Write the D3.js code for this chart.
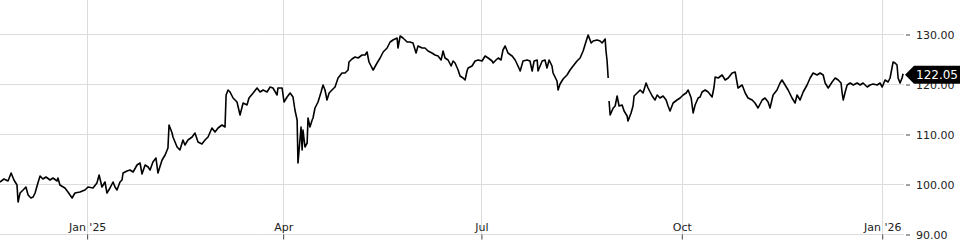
<!DOCTYPE html>
<html lang="en">
<head>
    <meta charset="UTF-8">
    <title>Price chart</title>
    <script src="https://d3js.org/d3.v7.min.js"></script>
    <style>
        body { margin: 0; background: #fff; }
        svg { display: block; font-family: "DejaVu Sans", sans-serif; }
    </style>
</head>
<body>
    <svg class="chart" width="960" height="240"></svg>

    <script>
        // days since 22 Nov 2024 (fractional = intraday)
        const days = [
            0.0, 1.8, 3.7, 5.1, 6.4, 7.8, 8.3, 9.2, 10.6, 11.9,
            12.9, 14.2, 15.2, 16.1, 17.4, 18.4, 19.7, 21.1, 23.0, 24.3,
            26.2, 26.6, 27.5, 29.8, 31.2, 33.1, 34.4, 36.7, 39.0, 40.4,
            42.7, 44.5, 45.5, 46.8, 48.2, 49.1, 50.5, 51.9, 52.8, 53.7,
            55.1, 56.0, 56.5, 58.3, 59.7, 61.1, 62.9, 64.3, 65.2, 66.6,
            68.0, 68.9, 70.2, 71.6, 72.5, 74.4, 75.8, 77.1, 77.6, 79.0,
            79.4, 81.3, 82.6, 84.0, 84.9, 86.3, 88.2, 89.5, 90.9, 92.7,
            94.1, 95.5, 97.3, 98.7, 100.1, 101.9, 103.3, 103.8, 104.7, 105.6,
            107.0, 108.8, 110.2, 111.6, 113.4, 114.3, 116.2, 118.0, 119.4, 120.8,
            122.6, 124.0, 125.3, 127.2, 127.6, 129.5, 130.4, 131.8, 133.2, 134.5,
            135.4, 136.4, 136.8, 138.2, 138.7, 139.1, 140.0, 141.0, 141.4, 142.3,
            143.3, 143.7, 144.6, 146.0, 147.4, 148.3, 149.2, 150.1, 151.1, 152.4,
            153.8, 155.2, 157.0, 158.4, 159.8, 160.2, 161.6, 163.0, 164.4, 166.2,
            167.6, 168.5, 169.4, 170.8, 171.3, 173.1, 174.5, 175.9, 177.7, 179.1,
            180.4, 182.3, 182.7, 183.7, 185.0, 186.9, 188.2, 189.6, 191.0, 191.9,
            193.8, 195.1, 196.5, 198.3, 199.7, 201.1, 202.5, 203.4, 204.3, 205.7,
            207.1, 208.0, 208.9, 210.3, 211.2, 212.6, 213.5, 214.4, 214.9, 216.7,
            218.1, 219.5, 221.3, 222.7, 224.1, 225.9, 226.4, 227.7, 228.7, 230.0,
            230.9, 231.9, 233.2, 235.1, 236.5, 237.8, 238.8, 240.1, 242.0, 243.3,
            244.3, 245.2, 246.6, 247.0, 248.9, 250.2, 251.1, 252.1, 253.4, 253.9,
            255.7, 256.2, 257.1, 258.5, 260.3, 261.7, 263.1, 264.9, 266.3, 267.7,
            269.1, 270.0, 271.4, 272.3, 274.1, 275.5, 276.4, 277.8, 278.2, 278.7,
            279.2, 279.4, 279.6, 280.1, 281.5, 282.4, 283.3, 284.2, 285.6, 286.5,
            287.9, 288.3, 289.7, 290.6, 291.1, 292.5, 293.9, 295.2, 296.6, 297.5,
            299.4, 300.7, 301.7, 303.0, 304.4, 305.8, 306.7, 307.6, 309.0, 310.8,
            312.2, 313.6, 315.0, 315.9, 317.3, 318.2, 319.1, 320.5, 321.4, 322.3,
            323.7, 325.1, 326.9, 327.8, 328.3, 329.7, 331.5, 332.9, 334.3, 336.1,
            337.5, 338.4, 338.8, 340.7, 342.1, 343.4, 345.3, 346.6, 348.0, 349.9,
            351.2, 352.6, 353.5, 354.9, 356.7, 358.1, 359.0, 360.4, 361.8, 363.6,
            365.0, 365.9, 367.3, 368.7, 370.5, 371.9, 373.3, 375.1, 376.5, 377.9,
            378.8, 380.2, 382.0, 383.4, 384.8, 386.1, 386.6, 387.1, 388.0, 388.9,
            390.3, 391.7, 393.5, 394.9, 396.2, 398.1, 399.4, 400.8, 402.7, 404.0,
            405.0, 406.3, 407.7, 408.6, 410.0, 410.9, 411.8, 412.3, 413.2, 414.1,
            414.6
        ]
        // null = gap in the series
        const prices = [
            100.4, 101.0, 100.6, 102.2, 100.8, 99.8, 96.4, 98.2, 98.8, 99.4,
            97.8, 97.2, 97.4, 98.2, 100.2, 101.6, 101.0, 101.4, 100.8, 101.2,
            100.6, 101.2, 99.8, 99.2, 98.4, 97.2, 98.2, 98.4, 98.8, 99.4,
            99.2, 100.2, 101.8, 99.4, 100.4, 98.2, 99.2, 100.4, 99.4, 98.8,
            100.4, 100.8, 102.2, 102.6, 102.8, 102.4, 103.8, 104.2, 102.0, 103.8,
            103.4, 102.8, 104.4, 105.2, 102.2, 104.8, 105.8, 107.2, 111.8, 110.2,
            109.4, 107.4, 106.8, 108.8, 107.8, 108.8, 109.4, 110.2, 108.4, 108.0,
            108.8, 109.4, 111.2, 110.4, 111.2, 111.8, 111.4, 117.8, 118.8, 118.4,
            117.2, 116.4, 113.8, 116.2, 115.8, 117.2, 118.2, 119.2, 118.4, 118.8,
            118.4, 119.4, 119.2, 117.8, 119.2, 119.2, 116.4, 117.4, 118.2, 117.4,
            114.8, 112.8, 104.2, 111.4, 106.8, 110.8, 107.4, 108.2, 113.2, 111.4,
            112.8, 113.2, 115.2, 116.4, 118.4, 119.8, 118.8, 116.8, 118.2, 118.8,
            119.4, 121.2, 122.2, 122.2, 122.8, 124.4, 125.0, 125.4, 125.2, 125.8,
            125.8, 126.4, 124.4, 123.2, 122.8, 124.2, 125.2, 126.4, 127.2, 128.4,
            128.8, 129.2, 127.2, 129.6, 129.2, 128.4, 128.4, 128.2, 126.2, 127.6,
            127.2, 127.2, 126.6, 126.2, 125.8, 125.6, 124.8, 126.6, 125.2, 124.8,
            123.6, 124.6, 124.2, 122.8, 121.6, 121.2, 120.8, 122.6, 123.2, 123.6,
            124.6, 124.8, 124.6, 125.6, 125.2, 124.6, 124.2, 124.8, 125.2, 124.8,
            126.8, 127.6, 126.2, 125.6, 124.8, 123.6, 122.6, 124.6, 124.8, 124.6,
            122.6, 124.6, 124.8, 122.6, 124.6, 124.8, 123.2, 124.8, 123.6, 122.2,
            120.6, 118.8, 120.0, 121.0, 121.8, 122.8, 123.6, 124.6, 125.2, 126.6,
            128.6, 129.8, 128.2, 128.6, 128.8, 128.6, 128.2, 129.0, 126.6, 124.6,
            121.2, null, 116.6, 113.8, 115.2, 115.6, 117.6, 115.6, 115.8, 114.6,
            113.6, 112.6, 114.2, 115.6, 117.6, 118.2, 118.8, 118.2, 120.2, 119.2,
            117.6, 116.8, 117.8, 117.2, 117.6, 116.8, 115.6, 114.6, 116.2, 116.8,
            117.2, 117.8, 118.2, 118.8, 117.2, 114.2, 115.8, 117.2, 117.4, 118.4,
            118.8, 118.4, 117.4, 119.4, 121.4, 121.2, 121.8, 120.8, 121.2, 122.2,
            122.4, 120.2, 119.2, 119.8, 118.2, 117.2, 116.8, 116.2, 115.2, 116.8,
            117.2, 116.4, 115.2, 117.8, 118.8, 120.2, 120.8, 119.8, 118.8, 117.2,
            116.2, 117.8, 116.8, 118.4, 119.8, 121.2, 122.2, 121.8, 122.2, 121.8,
            120.2, 119.2, 120.4, 121.2, 120.8, 120.2, 118.2, 116.8, 118.4, 119.8,
            120.2, 119.8, 120.2, 119.8, 120.2, 119.4, 119.8, 120.0, 119.8, 120.2,
            119.4, 120.8, 120.4, 121.2, 124.4, 124.2, 123.8, 121.2, 120.2, 121.2,
            122.05
        ]
        const yTicks = [90, 100, 110, 120, 130]
        const xTickDates = ['2025-01-01', '2025-04-01', '2025-07-01', '2025-10-01', '2026-01-01']
        const xTickLabels = ["Jan '25", 'Apr', 'Jul', 'Oct', "Jan '26"]
        const lastPrice = 122.05

        const svg = d3.select('.chart')
        const plotW = 904
        const plotH = 234

        const start = Date.UTC(2024, 10, 22)
        const toDate = d => new Date(start + d * 864e5)
        const data = days.map((d, i) => ({ t: toDate(d), v: prices[i] }))

        const xScale = d3.scaleUtc()
            .domain([toDate(0), new Date(Date.UTC(2026, 0, 11))])
            .range([0, plotW])
        const yScale = d3.scaleLinear()
            .domain([90, 136.8])
            .range([plotH, 0])

        const tickDates = xTickDates.map(s => new Date(s + 'T00:00:00Z'))

        // grid
        const grid = svg.append('g').attr('stroke', '#dcdcdc').attr('stroke-width', 1)
        grid.selectAll('.hg').data(yTicks).enter().append('line')
            .attr('x1', 0).attr('x2', plotW)
            .attr('y1', d => Math.round(yScale(d)) + 0.5)
            .attr('y2', d => Math.round(yScale(d)) + 0.5)
        grid.selectAll('.vg').data(tickDates).enter().append('line')
            .attr('y1', 0).attr('y2', plotH)
            .attr('x1', d => Math.round(xScale(d)) + 0.5)
            .attr('x2', d => Math.round(xScale(d)) + 0.5)

        // x axis: labels sit above the base line
        const xAxis = svg.append('g')
            .attr('transform', `translate(0, ${plotH + 0.5})`)
            .call(d3.axisBottom(xScale).tickValues(tickDates)
                .tickFormat((d, i) => xTickLabels[i]).tickSize(5))
        xAxis.select('.domain').remove()
        xAxis.selectAll('line').attr('stroke', '#444')
        xAxis.selectAll('text')
            .attr('y', -4).attr('dy', 0)
            .attr('font-size', 11).attr('font-family', '"DejaVu Sans", sans-serif')
            .attr('fill', '#222')

        // y axis on the right
        const yAxis = svg.append('g')
            .attr('transform', `translate(${plotW + 1}, 0.5)`)
            .call(d3.axisRight(yScale).tickValues(yTicks)
                .tickFormat(d3.format('.2f')).tickSize(0))
        yAxis.select('.domain').remove()
        yAxis.selectAll('.tick').append('line')
            .attr('x1', 1).attr('x2', 5).attr('stroke', '#444')
        yAxis.selectAll('text')
            .attr('x', 11)
            .attr('font-size', 11).attr('font-family', '"DejaVu Sans", sans-serif')
            .attr('fill', '#222')

        // price line
        const line = d3.line()
            .defined(d => d.v !== null)
            .x(d => xScale(d.t))
            .y(d => yScale(d.v))
        svg.append('path')
            .datum(data)
            .attr('fill', 'none')
            .attr('stroke', '#000')
            .attr('stroke-width', 1.6)
            .attr('stroke-linejoin', 'round')
            .attr('d', line)

        // last price marker
        const py = yScale(lastPrice) + 1
        const px = plotW + 1
        svg.append('path')
            .attr('d', `M${px},${py} L${px + 9},${py - 9} L960,${py - 9} L960,${py + 9} L${px + 9},${py + 9} Z`)
            .attr('fill', '#000')
        svg.append('text')
            .attr('x', px + 11)
            .attr('y', py)
            .attr('dy', '0.35em')
            .attr('font-size', 12)
            .attr('fill', '#fff')
            .text(d3.format('.2f')(lastPrice))
    </script>
</body>
</html>
